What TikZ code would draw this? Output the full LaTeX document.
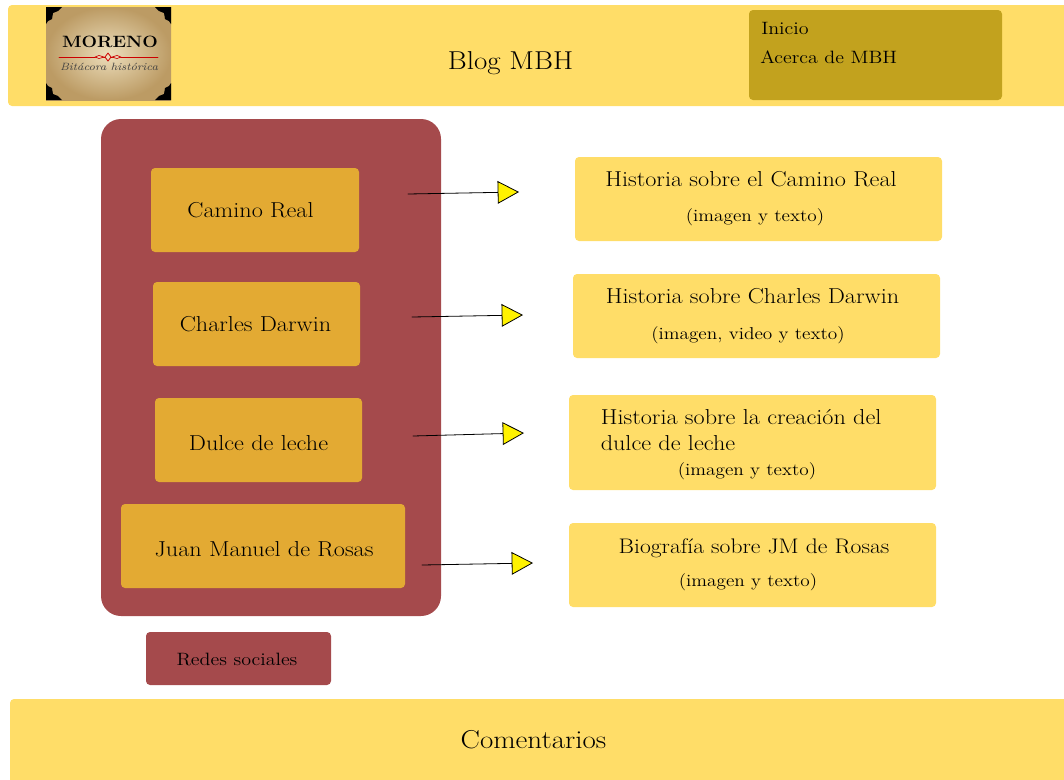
\documentclass[tikz,border=0pt]{standalone}
\usepackage{fontspec}
\setmainfont[FakeStretch=1.12]{Latin Modern Roman}
\usetikzlibrary{arrows.meta}
\definecolor{headyellow}{RGB}{255,221,104}
\definecolor{menugold}{RGB}{194,162,30}
\definecolor{panelred}{RGB}{165,74,76}
\definecolor{itemorange}{RGB}{227,170,51}
\definecolor{logopaper}{RGB}{236,222,188}
\definecolor{logoedge}{RGB}{188,155,100}
\tikzset{
	box/.style={inner sep=0pt,rounded corners=3pt},
	lbl/.style={inner sep=0pt,text=black,font=\fontsize{16.2}{19}\selectfont},
	biglbl/.style={inner sep=0pt,text=black,font=\fontsize{19.4}{23}\selectfont},
	sublbl/.style={inner sep=0pt,text=black,font=\fontsize{12.9}{15}\selectfont},
	menulbl/.style={inner sep=0pt,text=black,font=\fontsize{13.4}{16}\selectfont},
	link/.style={line width=0.6pt,-{Triangle[length=16pt,width=17pt,fill=yellow,line width=0.6pt]}}
}
\begin{document}
\begin{tikzpicture}[line cap=round,line join=round,x=0.75pt,y=-0.75pt]
	\useasboundingbox (0,0) rectangle (1064,779);
	% bars
	\fill [box,headyellow] (8,5) rectangle (1070,106);
	\fill [box,headyellow] (10,699) rectangle (1070,785);
	\fill [box,menugold] (749,10) rectangle (1002,100);
	\node [biglbl] (title) at (510.5,63) {Blog MBH};
	\node [biglbl] (comments) at (533.5,740) {Comentarios};
	\node [menulbl,anchor=west] (home) at (761,28) {Inicio};
	\node [menulbl,anchor=west] (about) at (760,57) {Acerca de MBH};
	% logo
	\shade [inner color=logopaper,outer color=logoedge] (46,7) rectangle (171,100);
	\foreach \cx/\cy/\sx/\sy in {46/7/1/1,171/7/-1/1,46/100/1/-1,171/100/-1/-1}
		\fill [black,shift={(\cx,\cy)},xscale=\sx,yscale=\sy] (0,0) -- (16,0) -- (12,4) -- (7,6) -- (6,12) -- (2,14) -- (0,17) -- cycle;
	\node [inner sep=0pt,font=\bfseries\fontsize{12.3}{15}\selectfont] (logotitle) at (110,42) {MORENO};
	\draw [red!80!black,line width=0.7pt] (59,57) -- (158,57);
	\draw [red!80!black,fill=logopaper,line width=0.6pt] (108,53) -- (111,57) -- (108,61) -- (105,57) -- cycle;
	\draw [red!80!black,fill=logopaper,line width=0.5pt] (95,57) -- (99,55.5) -- (104,57) -- (99,58.5) -- cycle;
	\draw [red!80!black,fill=logopaper,line width=0.5pt] (112,57) -- (117,55.5) -- (121,57) -- (117,58.5) -- cycle;
	\node [inner sep=0pt,font=\itshape\fontsize{7.9}{10}\selectfont,text=black!75] (logosub) at (109,67) {Bitácora histórica};
	% left panel
	\fill [box,rounded corners=15pt,panelred] (101,119) rectangle (441,616);
	\fill [box,itemorange] (151,168) rectangle (359,252);
	\fill [box,itemorange] (153,282) rectangle (360,366);
	\fill [box,itemorange] (155,398) rectangle (362,482);
	\fill [box,itemorange] (121,504) rectangle (405,588);
	\fill [box,panelred] (146,632) rectangle (331,685);
	\node [lbl] (camino) at (250.5,210) {Camino Real};
	\node [lbl] (darwin) at (255.5,324) {Charles Darwin};
	\node [lbl] (dulce) at (258.5,443) {Dulce de leche};
	\node [lbl] (rosas) at (264,549) {Juan Manuel de Rosas};
	\node [menulbl] (redes) at (237,659) {Redes sociales};
	% right boxes
	\fill [box,headyellow] (575,157) rectangle (942,241);
	\fill [box,headyellow] (573,274) rectangle (940,358);
	\fill [box,headyellow] (569,395) rectangle (936,490);
	\fill [box,headyellow] (569,523) rectangle (936,607);
	\node [lbl] (hist1) at (751,179) {Historia sobre el Camino Real};
	\node [sublbl] (sub1) at (755,217) {(imagen y texto)};
	\node [lbl] (hist2) at (752.5,296) {Historia sobre Charles Darwin};
	\node [sublbl] (sub2) at (748,335) {(imagen, video y texto)};
	\node [lbl,anchor=west] (hist3a) at (600.5,417) {Historia sobre la creación del};
	\node [lbl,anchor=west] (hist3b) at (600.5,443) {dulce de leche};
	\node [sublbl] (sub3) at (747,471) {(imagen y texto)};
	\node [lbl,font=\fontsize{15.8}{19}\selectfont] (hist4) at (754,548) {Biografía sobre JM de Rosas};
	\node [sublbl] (sub4) at (748,582) {(imagen y texto)};
	% arrows
	\coordinate (from1) at (408,194);
	\coordinate (to1) at (519,192);
	\coordinate (from2) at (412,317);
	\coordinate (to2) at (523,315);
	\coordinate (from3) at (413,436);
	\coordinate (to3) at (524,433);
	\coordinate (from4) at (422,565);
	\coordinate (to4) at (533,563);
	\foreach \i in {1,2,3,4}
		\draw [link] (from\i) -- (to\i);
\end{tikzpicture}
\end{document}
